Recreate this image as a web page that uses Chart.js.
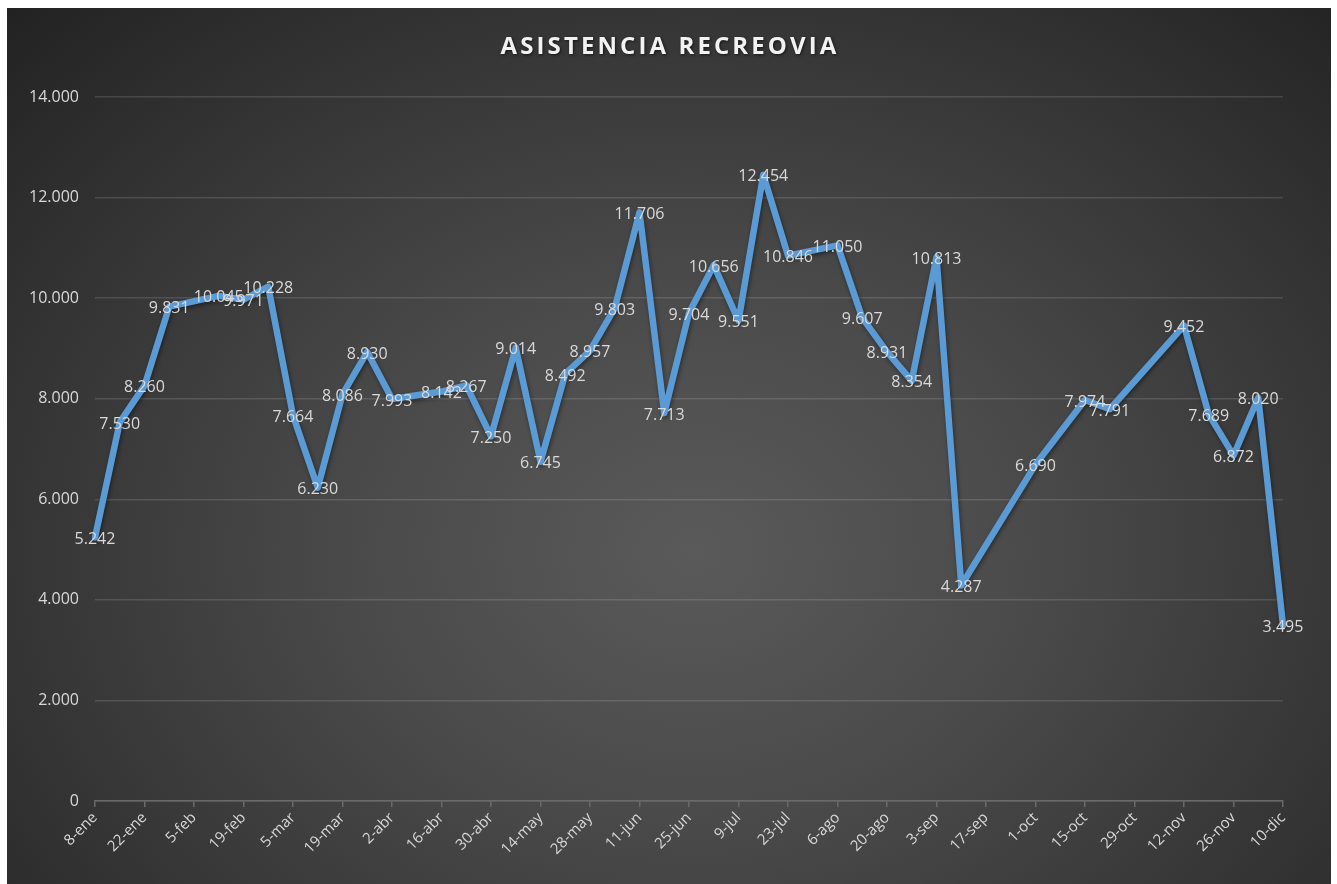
<!DOCTYPE html>
<html>
<head>
<meta charset="utf-8">
<script src="https://cdn.jsdelivr.net/npm/chart.js@4/dist/chart.umd.min.js"></script>
<style>
  html, body { margin: 0; padding: 0; background: #fff; }
  #wrap {
    position: absolute; left: 7px; top: 8px; width: 1324px; height: 876px;
    background: radial-gradient(ellipse farthest-corner at 52% 62%, #5a5a5a 0%, #4a4a4a 35%, #383838 65%, #222 100%);
  }
  canvas { display: block; }
</style>
</head>
<body>
<div id="wrap"><canvas id="chart" width="1324" height="876"></canvas></div>
<script>
// semanas del año (lunes)
const weeks = [
  "8-ene", "15-ene", "22-ene", "29-ene",
  "5-feb", "12-feb", "19-feb", "26-feb",
  "5-mar", "12-mar", "19-mar", "26-mar",
  "2-abr", "9-abr", "16-abr", "23-abr", "30-abr",
  "7-may", "14-may", "21-may", "28-may",
  "4-jun", "11-jun", "18-jun", "25-jun",
  "2-jul", "9-jul", "16-jul", "23-jul", "30-jul",
  "6-ago", "13-ago", "20-ago", "27-ago",
  "3-sep", "10-sep", "17-sep", "24-sep",
  "1-oct", "8-oct", "15-oct", "22-oct", "29-oct",
  "5-nov", "12-nov", "19-nov", "26-nov",
  "3-dic", "10-dic"
];

// asistentes por semana (null = sin jornada)
const asistencia = [
  5242, 7530, 8260, 9831,
  null, 10045, 9971, 10228,
  7664, 6230, 8086, 8930,
  7993, null, 8142, 8267, 7250,
  9014, 6745, 8492, 8957,
  9803, 11706, 7713, 9704,
  10656, 9551, 12454, 10846, null,
  11050, 9607, 8931, 8354,
  10813, 4287, null, null,
  6690, null, 7974, 7791, null,
  null, 9452, 7689, 6872,
  8020, 3495
];

const yMax = 14000;
const yStep = 2000;
const titulo = "ASISTENCIA RECREOVIA";

const fmt = n => String(n).replace(/\B(?=(\d{3})+(?!\d))/g, ".");
const textColor = "#d9d9d9";

const titlePlugin = {
  id: "tituloEspaciado",
  afterDraw(chart) {
    const ctx = chart.ctx;
    ctx.save();
    ctx.font = "bold 24px 'Open Sans'";
    ctx.letterSpacing = "3.1px";
    ctx.fillStyle = "#f2f2f2";
    ctx.textAlign = "center";
    ctx.textBaseline = "middle";
    ctx.shadowColor = "rgba(0,0,0,0.6)";
    ctx.shadowBlur = 3;
    ctx.shadowOffsetX = 1;
    ctx.shadowOffsetY = 1;
    ctx.fillText(titulo, chart.width / 2 + 1, 39);
    ctx.restore();
  }
};

const lineShadow = {
  id: "sombraLinea",
  beforeDatasetDraw(chart) {
    const ctx = chart.ctx;
    ctx.save();
    ctx.shadowColor = "rgba(0,0,0,0.45)";
    ctx.shadowBlur = 4;
    ctx.shadowOffsetX = 1;
    ctx.shadowOffsetY = 2;
  },
  afterDatasetDraw(chart) {
    chart.ctx.restore();
  }
};

const valueLabels = {
  id: "etiquetasValor",
  afterDatasetsDraw(chart) {
    const ctx = chart.ctx;
    const meta = chart.getDatasetMeta(0);
    const data = chart.data.datasets[0].data;
    ctx.save();
    ctx.font = "16px 'Open Sans'";
    ctx.fillStyle = textColor;
    ctx.textAlign = "center";
    ctx.textBaseline = "middle";
    meta.data.forEach((pt, i) => {
      if (data[i] == null) return;
      ctx.fillText(fmt(data[i]), pt.x, pt.y + 2);
    });
    ctx.restore();
  }
};

new Chart(document.getElementById("chart"), {
  type: "line",
  data: {
    labels: weeks,
    datasets: [{
      label: "Asistencia",
      data: asistencia,
      borderColor: "#5b9bd5",
      borderWidth: 6.5,
      borderJoinStyle: "round",
      borderCapStyle: "round",
      pointRadius: 0,
      pointHoverRadius: 0,
      spanGaps: true,
      tension: 0
    }]
  },
  options: {
    responsive: false,
    animation: false,
    layout: { padding: { top: 89, right: 48, left: 0, bottom: 0 } },
    plugins: {
      legend: { display: false },
      title: { display: false },
      tooltip: { enabled: false }
    },
    scales: {
      x: {
        afterFit(scale) { scale.height = 83; },
        grid: {
          drawOnChartArea: false,
          drawTicks: true,
          tickLength: 6,
          color: "#6a6a6a",
          lineWidth: 1.5
        },
        border: { display: true, color: "#6a6a6a", width: 1.5 },
        ticks: {
          autoSkip: false,
          minRotation: 45,
          maxRotation: 45,
          padding: 2,
          color: textColor,
          font: { family: "'Open Sans'", size: 15 },
          callback(value, index) {
            return index % 2 === 0 ? this.getLabelForValue(value) : null;
          }
        }
      },
      y: {
        min: 0,
        max: yMax,
        afterFit(scale) { scale.width = 88; },
        grid: {
          color: "rgba(255,255,255,0.13)",
          lineWidth: 1.5,
          drawTicks: false
        },
        border: { display: false },
        ticks: {
          stepSize: yStep,
          padding: 16,
          color: textColor,
          font: { family: "'Open Sans'", size: 16 },
          callback: v => fmt(v)
        }
      }
    }
  },
  plugins: [titlePlugin, lineShadow, valueLabels]
});
</script>
</body>
</html>
